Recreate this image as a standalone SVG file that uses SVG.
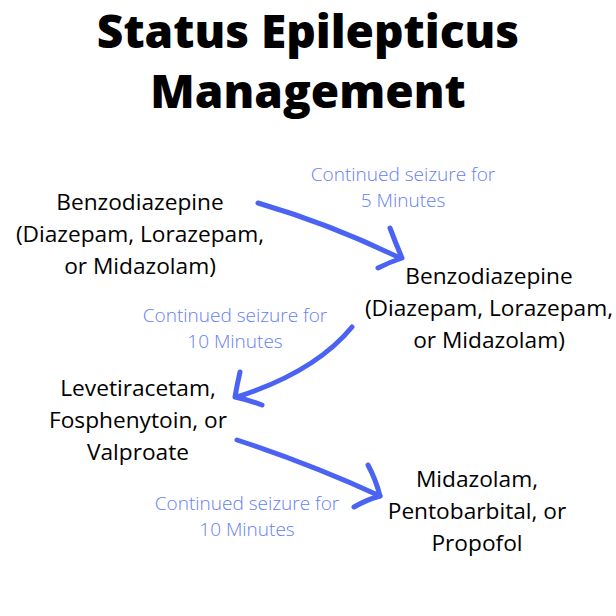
<svg xmlns="http://www.w3.org/2000/svg" width="616" height="616" viewBox="0 0 616 616">
<style>
.title{font-family:"Open Sans","Liberation Sans",sans-serif;font-weight:800;font-size:46px;fill:#000;text-anchor:middle}
.node{font-family:"Open Sans","Liberation Sans",sans-serif;font-weight:400;font-size:22.7px;fill:#000;text-anchor:middle}
.lbl{font-family:"Open Sans","Liberation Sans",sans-serif;font-weight:300;font-size:19px;fill:#6580f6;text-anchor:middle}
.arr{fill:none;stroke:#4a63f3;stroke-width:5;stroke-linecap:round;stroke-linejoin:round}
</style>
<rect width="616" height="616" fill="#fff"/>
<g id="title">
<text class="title" x="308" y="48">Status Epilepticus</text>
<text class="title" x="308" y="108">Management</text>
</g>
<g id="node1">
<text class="node" x="140" y="210">Benzodiazepine</text>
<text class="node" x="140" y="242">(Diazepam, Lorazepam,</text>
<text class="node" x="140" y="274">or Midazolam)</text>
</g>
<g id="node2">
<text class="node" x="489" y="284">Benzodiazepine</text>
<text class="node" x="489" y="316">(Diazepam, Lorazepam,</text>
<text class="node" x="489" y="348">or Midazolam)</text>
</g>
<g id="node3">
<text class="node" x="138" y="396">Levetiracetam,</text>
<text class="node" x="138" y="428">Fosphenytoin, or</text>
<text class="node" x="138" y="460">Valproate</text>
</g>
<g id="node4">
<text class="node" x="477" y="487">Midazolam,</text>
<text class="node" x="477" y="519">Pentobarbital, or</text>
<text class="node" x="477" y="551">Propofol</text>
</g>
<g id="connectors">
<path class="arr" d="M258,203 Q330,224 400,258"/>
<path class="arr" d="M390,228 Q396,244 402,258 Q390,262 378,268"/>
<text class="lbl" x="403" y="181">Continued seizure for</text>
<text class="lbl" x="403" y="207">5 Minutes</text>
<path class="arr" d="M352,327 Q315,372 237,397"/>
<path class="arr" d="M240,372 Q237,385 235,397 Q249,400 262,405"/>
<text class="lbl" x="235" y="322">Continued seizure for</text>
<text class="lbl" x="235" y="348">10 Minutes</text>
<path class="arr" d="M237,440 Q310,464 380,496"/>
<path class="arr" d="M368,465 Q376,480 380,496 Q366,500 354,507"/>
<text class="lbl" x="247" y="510">Continued seizure for</text>
<text class="lbl" x="247" y="536">10 Minutes</text>
</g>
</svg>
